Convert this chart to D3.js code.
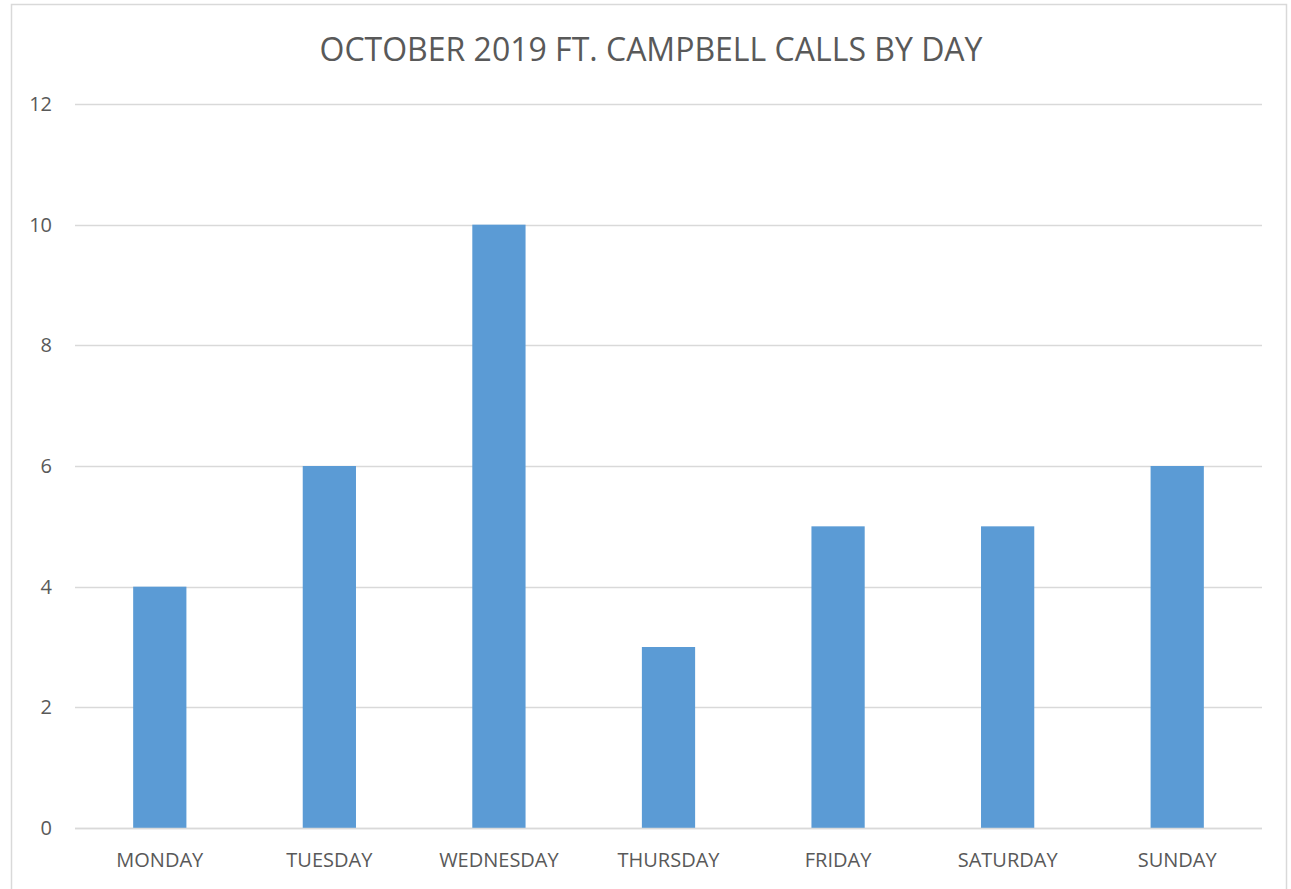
<!DOCTYPE html>
<html>
<head>
<meta charset="utf-8">
<script src="https://cdn.jsdelivr.net/npm/d3@7"></script>
<style>
  body { margin: 0; background: #fff; }
  text { font-family: "Open Sans", "Noto Sans", sans-serif; fill: #595959; }
</style>
</head>
<body>
<div id="chart"></div>
<script>
const days = ["MONDAY", "TUESDAY", "WEDNESDAY", "THURSDAY", "FRIDAY", "SATURDAY", "SUNDAY"];
const calls = [4, 6, 10, 3, 5, 5, 6];
const yTicks = [0, 2, 4, 6, 8, 10, 12];
const title = "OCTOBER 2019 FT. CAMPBELL CALLS BY DAY";

const W = 1291, H = 889;
const plot = {left: 75, right: 1262, top: 104, bottom: 828};

const svg = d3.select("#chart").append("svg")
    .attr("width", W).attr("height", H);

// chart border
svg.append("rect")
    .attr("x", 11.5).attr("y", 4.5)
    .attr("width", 1275).attr("height", 900)
    .attr("fill", "#fff").attr("stroke", "#d9d9d9").attr("stroke-width", 1.5);

const x = d3.scaleBand()
    .domain(days)
    .range([plot.left, plot.right])
    .paddingInner(0.686)
    .paddingOuter(0.343);

const y = d3.scaleLinear()
    .domain([0, 12])
    .range([plot.bottom, plot.top]);

// gridlines
svg.append("g")
  .selectAll("line")
  .data(yTicks)
  .join("line")
    .attr("x1", plot.left).attr("x2", plot.right)
    .attr("y1", d => Math.round(y(d)) + 0.5).attr("y2", d => Math.round(y(d)) + 0.5)
    .attr("stroke", "#d9d9d9").attr("stroke-width", 1.5);

// y labels
svg.append("g")
  .selectAll("text")
  .data(yTicks)
  .join("text")
    .attr("x", 52).attr("y", d => y(d) + 7)
    .attr("text-anchor", "end")
    .style("font-size", "20px")
    .text(d => d);

// bars
svg.append("g")
  .selectAll("rect")
  .data(calls)
  .join("rect")
    .attr("x", (d, i) => x(days[i]))
    .attr("y", d => y(d))
    .attr("width", x.bandwidth())
    .attr("height", d => y(0) - y(d))
    .attr("fill", "#5b9bd5");

// baseline on top of bars
svg.append("line")
    .attr("x1", plot.left).attr("x2", plot.right)
    .attr("y1", y(0) + 0.5).attr("y2", y(0) + 0.5)
    .attr("stroke", "#d9d9d9").attr("stroke-width", 1.5);

// category labels
svg.append("g")
  .selectAll("text")
  .data(days)
  .join("text")
    .attr("x", d => x(d) + x.bandwidth() / 2)
    .attr("y", 867)
    .attr("text-anchor", "middle")
    .style("font-size", "20px")
    .text(d => d);

// title
svg.append("text")
    .attr("x", 651).attr("y", 61)
    .attr("text-anchor", "middle")
    .style("font-size", "32px")
    .attr("textLength", 663)
    .attr("lengthAdjust", "spacingAndGlyphs")
    .text(title);
</script>
</body>
</html>
